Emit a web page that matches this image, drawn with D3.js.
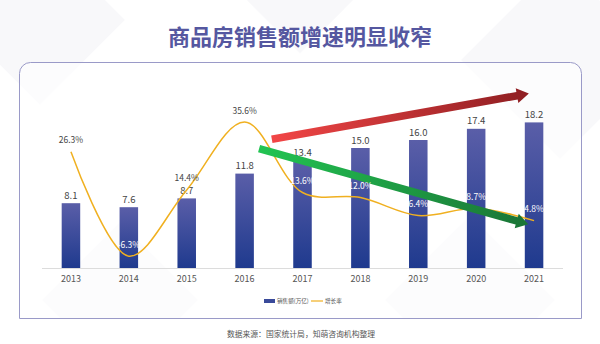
<!DOCTYPE html>
<html>
<head>
<meta charset="utf-8">
<script src="https://cdn.jsdelivr.net/npm/d3@7"></script>
<style>
  body { margin: 0; background: #fff; }
  svg { display: block; font-family: "Noto Sans CJK SC", "Noto Sans", sans-serif; }
</style>
</head>
<body>
<svg width="600" height="344"></svg>
<script>
var years = ["2013", "2014", "2015", "2016", "2017", "2018", "2019", "2020", "2021"];
var sales = [8.1, 7.6, 8.7, 11.8, 13.4, 15.0, 16.0, 17.4, 18.2];
var growth = [26.3, -6.3, 14.4, 35.6, 13.6, 12.0, 6.4, 8.7, 4.8];
var seriesNames = ["销售额(万亿)", "增长率"];
var titleText = "商品房销售额增速明显收窄";
var sourceText = "数据来源：国家统计局，知萌咨询机构整理";

// trend arrows: [category index, value] for start and tip
var redArrow = [[3.47, 16.1], [7.91, 21.8]];     // on sales scale
var greenArrow = [[3.25, 27.3], [7.9, 3.7]];     // on growth scale

var svg = d3.select("svg");

// faint background diamonds
var bg = svg.append("g").attr("fill", "#f0f0f4");
[[40, 20, 120], [300, -60, 160], [560, 60, 140], [120, 300, 110], [470, 300, 120]].forEach(function(d) {
  bg.append("rect")
    .attr("x", -d[2] / 2).attr("y", -d[2] / 2)
    .attr("width", d[2]).attr("height", d[2])
    .attr("opacity", 0.45)
    .attr("transform", "translate(" + d[0] + "," + d[1] + ") rotate(45)");
});

svg.append("text")
  .attr("x", 300).attr("y", 45)
  .attr("text-anchor", "middle")
  .attr("font-size", 22).attr("font-weight", "bold")
  .attr("fill", "#5557a0")
  .text(titleText);

svg.append("rect")
  .attr("x", 19.5).attr("y", 62.5)
  .attr("width", 562).attr("height", 290)
  .attr("rx", 11)
  .attr("fill", "#fff").attr("fill-opacity", 0.6)
  .attr("stroke", "#9a9ac8").attr("stroke-width", 1);

// cover the panel bottom, leaving a straight line
svg.append("rect").attr("x", 0).attr("y", 318.5).attr("width", 600).attr("height", 30).attr("fill", "#fff");
svg.append("line")
  .attr("x1", 19.5).attr("x2", 581.5).attr("y1", 318.5).attr("y2", 318.5)
  .attr("stroke", "#9a9ac8");

var x = d3.scaleBand().domain(years).range([42, 563]).padding(0);
var y = d3.scaleLinear().domain([0, 20]).range([268, 108]);
var y2 = d3.scaleLinear().domain([-10, 40]).range([268, 108]);
var xi = function(i) { return x(years[0]) + x.bandwidth() / 2 + i * x.step(); };
var barW = x.bandwidth() * 0.32;

var defs = svg.append("defs");
var bgrad = defs.append("linearGradient").attr("id", "barGrad")
  .attr("x1", 0).attr("y1", 0).attr("x2", 0).attr("y2", 1);
bgrad.append("stop").attr("offset", "0%").attr("stop-color", "#5a5ea8");
bgrad.append("stop").attr("offset", "100%").attr("stop-color", "#1f3a8e");

// axis
svg.append("line")
  .attr("x1", x.range()[0]).attr("x2", x.range()[1])
  .attr("y1", y(0) + 0.5).attr("y2", y(0) + 0.5)
  .attr("stroke", "#dcdcdc");

svg.append("g").selectAll("text")
  .data(years)
  .enter().append("text")
    .attr("x", function(d) { return x(d) + x.bandwidth() / 2; })
    .attr("y", 282)
    .attr("text-anchor", "middle")
    .attr("font-size", 9).attr("fill", "#555")
    .text(function(d) { return d; });

// bars
svg.append("g").selectAll("rect")
  .data(sales)
  .enter().append("rect")
    .attr("x", function(d, i) { return x(years[i]) + (x.bandwidth() - barW) / 2; })
    .attr("y", function(d) { return y(d); })
    .attr("width", barW)
    .attr("height", function(d) { return y(0) - y(d); })
    .attr("fill", "url(#barGrad)");

svg.append("g").selectAll("text")
  .data(sales)
  .enter().append("text")
    .attr("x", function(d, i) { return x(years[i]) + x.bandwidth() / 2; })
    .attr("y", function(d) { return y(d) - 4.5; })
    .attr("text-anchor", "middle")
    .attr("font-size", 9.5).attr("fill", "#444")
    .text(function(d) { return d.toFixed(1); });

// growth line
var line = d3.line()
  .x(function(d, i) { return x(years[i]) + x.bandwidth() / 2; })
  .y(function(d) { return y2(d); })
  .curve(d3.curveCatmullRom.alpha(0.5));

svg.append("path")
  .datum(growth)
  .attr("d", line)
  .attr("fill", "none")
  .attr("stroke", "#f0b020")
  .attr("stroke-width", 1.5);

// arrows
function arrow(pts, sy, id, c0, c1) {
  var S = [xi(pts[0][0]), sy(pts[0][1])], T = [xi(pts[1][0]), sy(pts[1][1])];
  var dx = T[0] - S[0], dy = T[1] - S[1], len = Math.sqrt(dx * dx + dy * dy);
  var u = [dx / len, dy / len], n = [-u[1], u[0]];
  var w = 3.8, hw = 7.5, hl = 12;
  var B = [T[0] - u[0] * hl, T[1] - u[1] * hl];
  function p(P, k) { return [P[0] + n[0] * k, P[1] + n[1] * k]; }
  var poly = [p(S, w), p(B, w), p(B, hw), T, p(B, -hw), p(B, -w), p(S, -w)];
  var gr = defs.append("linearGradient").attr("id", id)
    .attr("gradientUnits", "userSpaceOnUse")
    .attr("x1", S[0]).attr("y1", S[1]).attr("x2", T[0]).attr("y2", T[1]);
  gr.append("stop").attr("offset", "0%").attr("stop-color", c0);
  gr.append("stop").attr("offset", "100%").attr("stop-color", c1);
  svg.append("polygon")
    .attr("points", poly.map(function(q) { return q.join(","); }).join(" "))
    .attr("fill", "url(#" + id + ")");
}
arrow(redArrow, y, "redGrad", "#f24646", "#8e1e22");
arrow(greenArrow, y2, "greenGrad", "#22c452", "#1a7436");

// growth labels
svg.append("g").selectAll("text")
  .data(growth)
  .enter().append("text")
    .attr("x", function(d, i) { return x(years[i]) + x.bandwidth() / 2; })
    .attr("y", function(d) { return y2(d) - 8.5; })
    .attr("text-anchor", "middle")
    .attr("font-size", 8.5)
    .attr("fill", function(d, i) { return y2(d) - 11 > y(sales[i]) ? "#fff" : "#444"; })
    .text(function(d) { return d.toFixed(1) + "%"; });

// legend
var lg = svg.append("g").attr("font-size", 5.6).attr("fill", "#555");
lg.append("rect").attr("x", 264).attr("y", 299).attr("width", 11).attr("height", 4).attr("fill", "#3a4a9a");
lg.append("text").attr("x", 277).attr("y", 303).text(seriesNames[0]);
lg.append("line").attr("x1", 311).attr("x2", 323).attr("y1", 301).attr("y2", 301)
  .attr("stroke", "#f0b020").attr("stroke-width", 1.2);
lg.append("text").attr("x", 325).attr("y", 303).text(seriesNames[1]);

svg.append("text")
  .attr("x", 301).attr("y", 337)
  .attr("text-anchor", "middle")
  .attr("font-size", 7.8).attr("fill", "#555")
  .text(sourceText);
</script>
</body>
</html>
